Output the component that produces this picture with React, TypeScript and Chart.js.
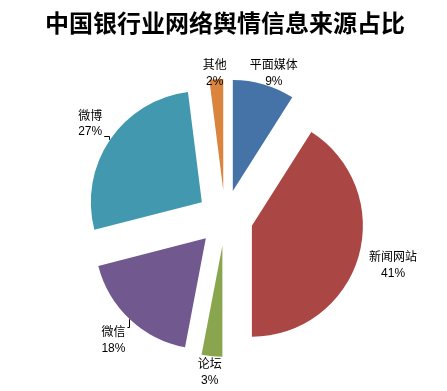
import React, { useEffect, useRef } from "react";
import { Chart, registerables } from "chart.js";

Chart.register(...registerables);

const titleText = "中国银行业网络舆情信息来源占比";
const categories = ["平面媒体", "新闻网站", "论坛", "微信", "微博", "其他"];
const shares = [9, 41, 3, 18, 27, 2];
const sliceColors = ["#4572A7", "#AA4643", "#89A54E", "#71588F", "#4198AF", "#DB843D"];

const NAME_FONT = '12px "Noto Sans CJK SC", sans-serif';
const PCT_FONT = '12px "Liberation Sans", Arial, sans-serif';

// Chart.js v4 draws an exploded arc translated by offset/4, but also enlarges
// narrow arcs' radius and trims their angle. Undo that so every exploded slice
// keeps the same radius and its true angle, as in the reference.
const equalRadiusPlugin = {
  id: "equalRadius",
  afterDatasetsUpdate(chart: any) {
    const meta = chart.getDatasetMeta(0);
    meta.data.forEach((arc: any) => {
      const nom = { r: arc.outerRadius, s: arc.startAngle, e: arc.endAngle };
      arc.$nom = nom;
      const shift = (arc.options.offset || 0) / 4;
      const fix = 1 - Math.sin(Math.min(Math.PI, arc.circumference || 0));
      const o = shift * fix;
      arc.outerRadius = nom.r - o;
      const widen = o / (2 * Math.PI * nom.r);
      arc.startAngle = nom.s - widen;
      arc.endAngle = nom.e + widen;
    });
  },
};

const labelPlugin = {
  id: "outsideLabels",
  afterDatasetsDraw(chart: any) {
    const ctx = chart.ctx;
    const meta = chart.getDatasetMeta(0);
    const area = chart.chartArea;
    const labels = chart.data.labels as string[];
    const values = chart.data.datasets[0].data as number[];
    ctx.save();
    ctx.textAlign = "center";
    ctx.textBaseline = "middle";
    meta.data.forEach((arc: any, i: number) => {
      const nom = arc.$nom || { r: arc.outerRadius, s: arc.startAngle, e: arc.endAngle };
      const shift = (arc.options.offset || 0) / 4;
      const mid = (nom.s + nom.e) / 2;
      const ux = Math.cos(mid);
      const uy = Math.sin(mid);
      const name = labels[i];
      const pct = values[i] + "%";
      ctx.font = NAME_FONT;
      const w1 = ctx.measureText(name).width;
      ctx.font = PCT_FONT;
      const w2 = ctx.measureText(pct).width;
      const w = Math.max(w1, w2);
      const h = 34;
      const d = nom.r + shift + 12;
      const cx = arc.x + ux * d + (ux * w) / 2;
      let cy = arc.y + uy * d + (uy * h) / 2;
      const minY = area.top + 11 + h / 2;
      const maxY = chart.height - 2 - h / 2;
      cy = Math.min(Math.max(cy, minY), maxY);
      ctx.fillStyle = "#000";
      ctx.font = NAME_FONT;
      ctx.fillText(name, cx, cy - 8.5);
      ctx.font = PCT_FONT;
      ctx.fillText(pct, cx, cy + 8.5);

      // short leader line for labels on the left side
      if (ux < -0.5) {
        const px = arc.x + ux * (nom.r + shift) - 1;
        const py = arc.y + uy * (nom.r + shift);
        const boxRight = cx + w / 2 + 2;
        const ly = Math.round(Math.min(Math.max(py, cy - h / 2 + 4), cy + h / 2 - 4)) + 0.5;
        ctx.strokeStyle = "#000";
        ctx.lineWidth = 1;
        ctx.beginPath();
        ctx.moveTo(boxRight, ly);
        ctx.lineTo(Math.round(px) + 0.5, ly);
        ctx.lineTo(Math.round(px) + 0.5, py);
        ctx.stroke();
      }
    });
    ctx.restore();
  },
};

export default function App() {
  const ref = useRef<HTMLCanvasElement | null>(null);
  useEffect(() => {
    if (!ref.current) return;
    const chart = new Chart(ref.current, {
      type: "pie",
      data: {
        labels: categories,
        datasets: [
          {
            data: shares,
            backgroundColor: sliceColors,
            borderWidth: 0,
            offset: 112,
            radius: 111,
          } as any,
        ],
      },
      options: {
        responsive: false,
        animation: false,
        layout: { padding: { left: 3, right: 0, top: 0, bottom: 0 } },
        plugins: {
          legend: { display: false },
          tooltip: { enabled: false },
          title: {
            display: true,
            text: titleText,
            color: "#000",
            font: { family: '"Noto Sans CJK SC", sans-serif', size: 24, weight: "bold", lineHeight: 1.2 },
            padding: { top: 8, bottom: 8 },
          },
        },
      },
      plugins: [equalRadiusPlugin, labelPlugin],
    });
    return () => chart.destroy();
  }, []);
  return (
    <div style={{ position: "fixed", left: 0, top: 0, width: 447, height: 391, background: "#fff" }}>
      <canvas ref={ref} width={447} height={391} style={{ width: 447, height: 391 }} />
    </div>
  );
}
